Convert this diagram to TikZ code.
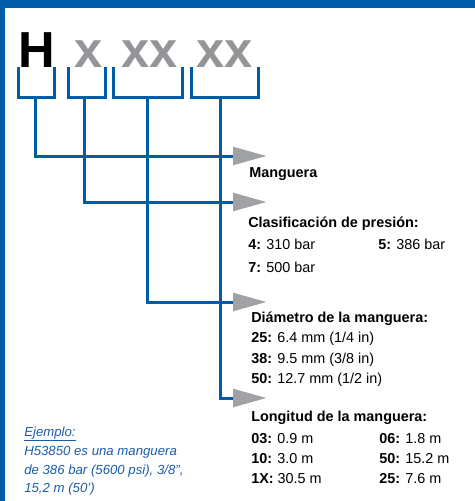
\documentclass[tikz,border=0pt]{standalone}
\usepackage{fontspec}
\setmainfont{Liberation Sans}
\definecolor{brandblue}{RGB}{0,92,169}
\definecolor{letgray}{RGB}{147,149,152}
\definecolor{arrgray}{RGB}{160,161,164}
\definecolor{exblue}{RGB}{28,92,168}
\begin{document}
\begin{tikzpicture}[x=0.75pt,y=-0.75pt,
  big/.style={inner sep=0, anchor=base, font=\fontsize{38}{38}\selectfont\bfseries},
  lbl/.style={inner sep=0, anchor=base west, font=\fontsize{10.8}{13}\selectfont},
  ttl/.style={lbl, font=\fontsize{10.8}{13}\selectfont\bfseries},
  ex/.style={inner sep=0, anchor=base west, text=exblue, font=\fontsize{9.9}{12}\selectfont\itshape},
  bracket/.style={draw=brandblue, line width=2.25pt, line join=miter},
  conn/.style={draw=brandblue, line width=2.25pt},
  tip/.style={fill=arrgray}]
\useasboundingbox (0,0) rectangle (475,501);
% frame
\fill[brandblue] (0,0) rectangle (475,7.5);
\fill[brandblue] (0,0) rectangle (5,501);
% code letters
\node[big] (H) at (36.5,67) {H};
\node[big, text=letgray] (x1) at (88.5,67) {x};
\node[big, text=letgray] (x2) at (149.5,67) {xx};
\node[big, text=letgray] (x3) at (224.5,67) {xx};
% brackets
\draw[bracket] (18.5,67) |- (54,97) -- (54,67);
\draw[bracket] (68,67) |- (105,97) -- (105,67);
\draw[bracket] (113,67) |- (182,97) -- (182,67);
\draw[bracket] (191,67) |- (258,97) -- (258,67);
\coordinate (b1) at (35,96);
\coordinate (b2) at (84,96);
\coordinate (b3) at (147,96);
\coordinate (b4) at (220,96);
% arrow bases
\coordinate (a1) at (233,156);
\coordinate (a2) at (233,202);
\coordinate (a3) at (233,302);
\coordinate (a4) at (233,398);
\draw[conn] (b4) |- (a4);
\draw[conn] (b3) |- (a3);
\draw[conn] (b2) |- (a2);
\draw[conn] (b1) |- (a1);
\foreach \a in {a1,a2,a3,a4}{
  \fill[tip] ([yshift=-7]\a) -- ([xshift=25]\a) -- ([yshift=7]\a) -- cycle;
}
% labels
\node[ttl] (t1) at (249,177) {Manguera};
\node[ttl] (t2) at (248,227) {Clasificación de presión:};
\node[lbl] (p4) at (248,249) {\textbf{4:} 310 bar};
\node[lbl] (p5) at (378,249) {\textbf{5:} 386 bar};
\node[lbl] (p7) at (248,272) {\textbf{7:} 500 bar};
\node[ttl] (t3) at (251,322) {Diámetro de la manguera:};
\node[lbl] (d25) at (251,342) {\textbf{25:} 6.4 mm (1/4 in)};
\node[lbl] (d38) at (251,363) {\textbf{38:} 9.5 mm (3/8 in)};
\node[lbl] (d50) at (251,383) {\textbf{50:} 12.7 mm (1/2 in)};
\node[ttl] (t4) at (251,421) {Longitud de la manguera:};
\node[lbl] (l03) at (251,443) {\textbf{03:} 0.9 m};
\node[lbl] (l10) at (251,463) {\textbf{10:} 3.0 m};
\node[lbl] (l1X) at (251,483) {\textbf{1X:} 30.5 m};
\node[lbl] (l06) at (379,443) {\textbf{06:} 1.8 m};
\node[lbl] (l50) at (379,463) {\textbf{50:} 15.2 m};
\node[lbl] (l25) at (379,483) {\textbf{25:} 7.6 m};
% example
\node[ex] (e1) at (24,436) {\underline{Ejemplo:}};
\node[ex] (e2) at (24,455) {H53850 es una manguera};
\node[ex] (e3) at (24,474) {de 386 bar (5600 psi), 3/8”,};
\node[ex] (e4) at (24,492) {15,2 m (50’)};
\end{tikzpicture}
\end{document}
